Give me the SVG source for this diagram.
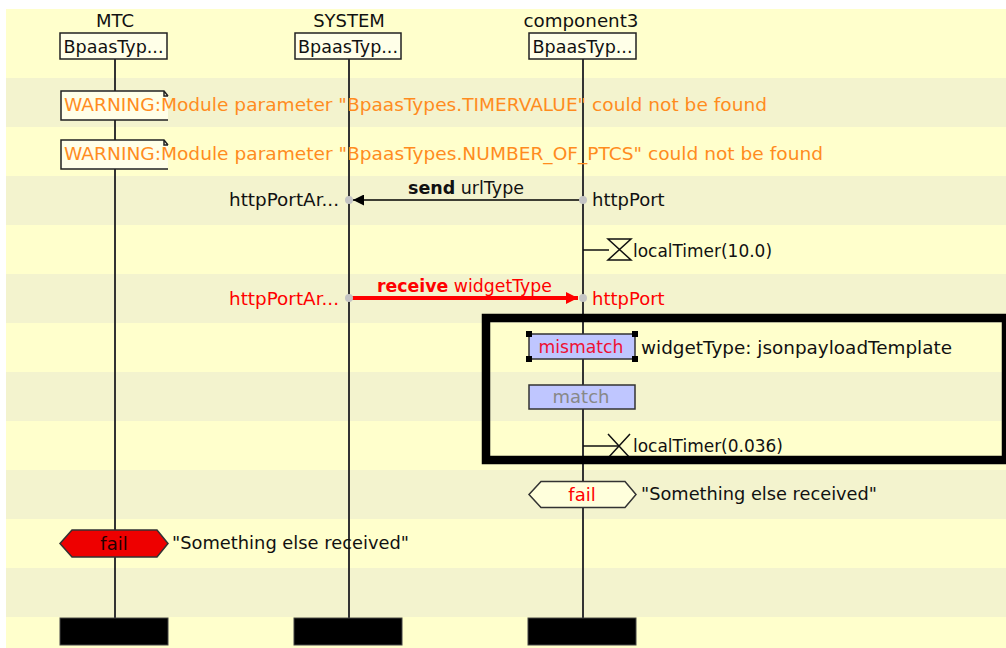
<svg xmlns="http://www.w3.org/2000/svg" width="1006" height="648" viewBox="0 0 1006 648">
<style>
  text { font-family: "DejaVu Sans", "Liberation Sans", sans-serif; font-size: 18px; fill: #111; }
  .c { text-anchor: middle; }
  .r { text-anchor: end; }
  .warn { fill: #FF8C1E; }
  .red { fill: #FF0000; }
  .band { fill: #F3F3CE; }
  .box { fill: #FFFFE8; stroke: #222; stroke-width: 1.5; }
  .life { stroke: #333; stroke-width: 2; fill: none; }
  .note { fill: #FFFFE8; stroke: none; }
  .noteline { fill: none; stroke: #222; stroke-width: 1.5; }
  .bar { fill: #000; stroke: #444; stroke-width: 1; }
  .act { fill: #BFC6FF; stroke: #333; stroke-width: 1.5; }
  .dot { fill: #C4C4C4; }
  .tline { stroke: #111; stroke-width: 1.5; fill: none; }
</style>
<defs>
  <marker id="arrBlack" viewBox="0 0 10 10" refX="10" refY="5" markerUnits="userSpaceOnUse" markerWidth="11" markerHeight="11" orient="auto">
    <path d="M0,0 L10,5 L0,10 z" fill="#000"/>
  </marker>
  <marker id="arrRed" viewBox="0 0 10 10" refX="10" refY="5" markerUnits="userSpaceOnUse" markerWidth="13" markerHeight="12" orient="auto">
    <path d="M0,0 L10,5 L0,10 z" fill="#FF0000"/>
  </marker>
</defs>

<!-- background -->
<rect x="0" y="0" width="1006" height="648" fill="#FFFFFF"/>
<rect x="6" y="9" width="1000" height="639" fill="#FFFFCC"/>
<g id="bands">
  <rect class="band" x="6" y="78" width="1000" height="49"/>
  <rect class="band" x="6" y="176" width="1000" height="49"/>
  <rect class="band" x="6" y="274" width="1000" height="49"/>
  <rect class="band" x="6" y="372" width="1000" height="49"/>
  <rect class="band" x="6" y="470" width="1000" height="49"/>
  <rect class="band" x="6" y="568" width="1000" height="49"/>
</g>

<!-- lifelines -->
<g id="lifelines">
  <line class="life" x1="115" y1="59" x2="115" y2="618"/>
  <line class="life" x1="349" y1="59" x2="349" y2="618"/>
  <line class="life" x1="583" y1="59" x2="583" y2="618"/>
</g>

<!-- participants -->
<g id="MTC">
  <text class="c" x="115" y="27">MTC</text>
  <rect class="box" x="60" y="33" width="107" height="26"/>
  <text class="c" x="113.5" y="53" textLength="100" lengthAdjust="spacingAndGlyphs">BpaasTyp...</text>
  <rect class="bar" x="60" y="618" width="108" height="27"/>
</g>
<g id="SYSTEM">
  <text class="c" x="349" y="27">SYSTEM</text>
  <rect class="box" x="295" y="33" width="106" height="26"/>
  <text class="c" x="348" y="53" textLength="100" lengthAdjust="spacingAndGlyphs">BpaasTyp...</text>
  <rect class="bar" x="294" y="618" width="108" height="27"/>
</g>
<g id="component3">
  <text class="c" x="581" y="27" textLength="115" lengthAdjust="spacingAndGlyphs">component3</text>
  <rect class="box" x="529" y="33" width="107" height="26"/>
  <text class="c" x="582.5" y="53" textLength="100" lengthAdjust="spacingAndGlyphs">BpaasTyp...</text>
  <rect class="bar" x="528" y="618" width="108" height="27"/>
</g>

<!-- warnings -->
<g id="warning1">
  <path class="note" d="M61,91 L164,91 L168,96 L168,120 L61,120 z"/>
  <path class="noteline" d="M168,120 L61,120 L61,91 L164,91 L168,96 M164,91 L164,96 L168,96"/>
  <text class="warn" x="64" y="111" textLength="703" lengthAdjust="spacingAndGlyphs">WARNING:Module parameter "BpaasTypes.TIMERVALUE" could not be found</text>
</g>
<g id="warning2">
  <path class="note" d="M61,140 L164,140 L168,145 L168,169 L61,169 z"/>
  <path class="noteline" d="M168,169 L61,169 L61,140 L164,140 L168,145 M164,140 L164,145 L168,145"/>
  <text class="warn" x="64" y="160" textLength="759" lengthAdjust="spacingAndGlyphs">WARNING:Module parameter "BpaasTypes.NUMBER_OF_PTCS" could not be found</text>
</g>

<!-- connectors -->
<g id="connectors">
  <line x1="583" y1="200" x2="353" y2="200" stroke="#000" stroke-width="1.5" marker-end="url(#arrBlack)"/>
  <line x1="352" y1="298" x2="578" y2="298" stroke="#FF0000" stroke-width="4" marker-end="url(#arrRed)"/>
  <line class="tline" x1="583" y1="250" x2="609" y2="250"/>
  <line class="tline" x1="583" y1="446" x2="619" y2="446"/>
</g>

<g id="send">
  <circle class="dot" cx="349" cy="200" r="4"/>
  <circle class="dot" cx="583" cy="200" r="4"/>
  <text x="408" y="194" textLength="116" lengthAdjust="spacingAndGlyphs"><tspan font-weight="bold">send</tspan> urlType</text>
  <text class="r" x="339" y="206" textLength="110" lengthAdjust="spacingAndGlyphs">httpPortAr...</text>
  <text x="592" y="206">httpPort</text>
</g>

<g id="timerStart">
  <path class="tline" d="M608,239 L631,239 L608,260 L631,260 z"/>
  <text x="633" y="257" textLength="139" lengthAdjust="spacingAndGlyphs">localTimer(10.0)</text>
</g>

<g id="receive">
  <circle class="dot" cx="349" cy="298" r="4"/>
  <circle class="dot" cx="583" cy="298" r="4"/>
  <text class="red" x="377" y="292" textLength="175" lengthAdjust="spacingAndGlyphs"><tspan font-weight="bold">receive</tspan> widgetType</text>
  <text class="r red" x="339" y="305" textLength="110" lengthAdjust="spacingAndGlyphs">httpPortAr...</text>
  <text class="red" x="592" y="305">httpPort</text>
</g>

<g id="mismatch">
  <rect class="act" x="529" y="334" width="106" height="25"/>
  <text class="c" x="581" y="353" style="fill:#EE1133" textLength="85" lengthAdjust="spacingAndGlyphs">mismatch</text>
  <rect x="526" y="331" width="6" height="6" fill="#000"/>
  <rect x="632" y="331" width="6" height="6" fill="#000"/>
  <rect x="526" y="356" width="6" height="6" fill="#000"/>
  <rect x="632" y="356" width="6" height="6" fill="#000"/>
  <text x="641" y="354" textLength="311" lengthAdjust="spacingAndGlyphs">widgetType: jsonpayloadTemplate</text>
</g>

<g id="match">
  <rect class="act" x="529" y="385" width="106" height="24"/>
  <text class="c" x="581" y="403" style="fill:#888888">match</text>
</g>

<g id="timeout">
  <path class="tline" d="M608,434 L630,458 M630,434 L608,458"/>
  <text x="633" y="452" textLength="150" lengthAdjust="spacingAndGlyphs">localTimer(0.036)</text>
</g>

<g id="frame">
  <rect x="486" y="318" width="520" height="142" fill="none" stroke="#000" stroke-width="8.5"/>
</g>

<g id="failComponent3">
  <path d="M529,494.5 L541,481.5 L625,481.5 L636,494.5 L625,507.5 L541,507.5 z" fill="#FFFFDC" stroke="#333" stroke-width="1.5"/>
  <text class="c red" x="582" y="501">fail</text>
  <text x="641" y="500" textLength="236" lengthAdjust="spacingAndGlyphs">"Something else received"</text>
</g>

<g id="failMTC">
  <path d="M60,543.5 L72,530 L157,530 L168,543.5 L157,557 L72,557 z" fill="#EE0000" stroke="#333" stroke-width="1.5"/>
  <text class="c" x="114" y="550" style="fill:#220000">fail</text>
  <text x="172" y="549" textLength="237" lengthAdjust="spacingAndGlyphs">"Something else received"</text>
</g>
</svg>
